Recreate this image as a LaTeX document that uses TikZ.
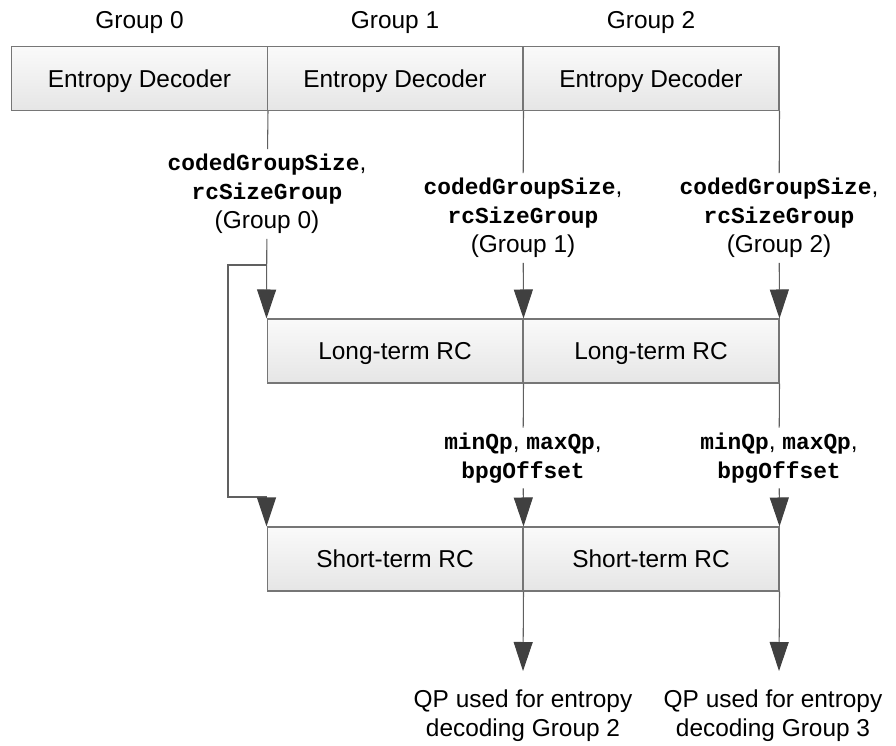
\documentclass[tikz,border=0pt]{standalone}
\usepackage{fontspec}
\setmainfont{Liberation Sans}
\setmonofont{Liberation Mono}
\usepackage{tikz}
\usetikzlibrary{calc,arrows.meta,positioning}
\definecolor{linegray}{RGB}{96,96,96}
\definecolor{tipgray}{RGB}{64,64,64}
\definecolor{boxgray}{RGB}{118,118,118}
\newcommand{\prm}[1]{{\fontsize{13pt}{16.4pt}\ttfamily\bfseries #1}}
\tikzset{
    block/.style={
    rectangle,draw=boxgray,line width=0.6pt,top color=white!98!black,bottom color=white!90!black,
    minimum width=5.12cm,minimum height=1.28cm,inner sep=0pt,text depth=0pt
    },
    grouptxt/.style={
    inner sep=0pt
    },
    param/.style={
    align=center,inner sep=0.1cm
    },
    result/.style={
    align=center,inner sep=0pt
    },
    wire/.style={
    draw=linegray,line width=0.6pt
    },
    flow/.style={
    wire,-{Triangle[length=0.58cm,width=0.38cm,color=tipgray]}
    },
}

\begin{document}
\begin{tikzpicture}[x=0.02cm, y=-0.02cm, every node/.style={font=\fontsize{13.9pt}{16.4pt}\selectfont}]
   \useasboundingbox (0,0) rectangle (896,746);
   \node[grouptxt] (g0) at (139.5,23) {Group 0};
   \node[grouptxt] (g1) at (395,23) {Group 1};
   \node[grouptxt] (g2) at (651,23) {Group 2};
   \node[block] (ed0) at (139.5,78.5) {Entropy Decoder};
   \node[block] (ed1) at (395,78.5) {Entropy Decoder};
   \node[block] (ed2) at (651,78.5) {Entropy Decoder};
   \node[block] (lt1) at (395,351) {Long-term RC};
   \node[block] (lt2) at (651,351) {Long-term RC};
   \node[block] (st1) at (395,559) {Short-term RC};
   \node[block] (st2) at (651,559) {Short-term RC};
   \node[param] (p0) at (267,194) {\prm{codedGroupSize},\\\prm{rcSizeGroup}\\(Group 0)};
   \node[param] (p1) at (523,218) {\prm{codedGroupSize},\\\prm{rcSizeGroup}\\(Group 1)};
   \node[param] (p2) at (779,218) {\prm{codedGroupSize},\\\prm{rcSizeGroup}\\(Group 2)};
   \node[param] (q1) at (523,458) {\prm{minQp}, \prm{maxQp},\\\prm{bpgOffset}};
   \node[param] (q2) at (779,458) {\prm{minQp}, \prm{maxQp},\\\prm{bpgOffset}};
   \node[result] (out1) at (523,716) {QP used for entropy\\decoding Group 2};
   \node[result] (out2) at (773,716) {QP used for entropy\\decoding Group 3};
   \coordinate (fbtop) at (267,265);
   \coordinate (fbcorner) at (228,497);
   \coordinate (o1) at (523,671);
   \coordinate (o2) at (779,671);

  \path[wire]
    (ed0.south east) -- (p0)
    (ed1.south east) -- (p1)
    (ed2.south east) -- (p2)
    (lt1.south east) -- (q1)
    (lt2.south east) -- (q2);
  \path[flow] (p0) -- (lt1.north west);
  \path[flow] (p1) -- (lt1.north east);
  \path[flow] (p2) -- (lt2.north east);
  \path[flow] (q1) -- (st1.north east);
  \path[flow] (q2) -- (st2.north east);
  \path[flow] (fbtop) -| (fbcorner) -| (st1.north west);
  \path[flow] (st1.south east) -- (o1);
  \path[flow] (st2.south east) -- (o2);
\end{tikzpicture}
\end{document}
